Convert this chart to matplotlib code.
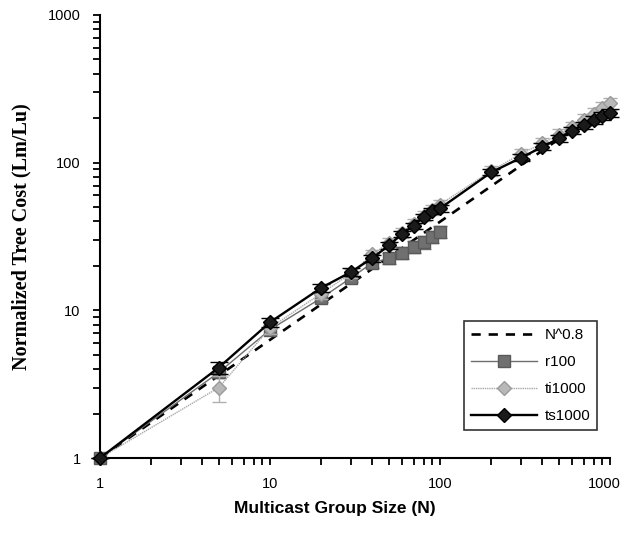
import matplotlib
matplotlib.use("Agg")
import matplotlib.pyplot as plt
import matplotlib.transforms as mtransforms
from matplotlib.lines import Line2D
from matplotlib.ticker import LogLocator, FixedLocator, FixedFormatter, NullFormatter

# ---- data ----
N_all = [1, 5, 10, 20, 30, 40, 50, 60, 70, 80, 90, 100, 200, 300, 400, 500, 600, 700, 800, 900, 1000]
ref_N = [1, 5, 10, 20, 30, 40, 50, 60, 70, 80, 90, 100, 200, 300, 400, 500, 600, 700, 800, 900, 1000]
ref_vals = [1.0, 3.62, 6.31, 10.99, 15.19, 19.13, 22.87, 26.46, 29.93, 33.30, 36.59, 39.81, 69.31,
            95.87, 120.7, 144.3, 166.9, 188.7, 209.9, 230.5, 251.2]

r100_N = [1, 5, 10, 20, 30, 40, 50, 60, 70, 80, 90, 100]
r100_vals = [1.0, 3.8, 7.4, 12.1, 16.6, 21.0, 22.5, 24.5, 27.0, 29.0, 31.5, 34.0]
r100_err = [0.0, 0.3, 0.5, 0.8, 1.0, 1.6, 2.0, 2.3, 2.6, 2.8, 3.0, 3.2]

ti_N = N_all
ti_vals = [1.0, 3.0, 7.6, 13.0, 17.8, 24.0, 28.5, 33.5, 38.5, 43.5, 48.0, 52.0, 88.0, 115.0,
           135.0, 155.0, 175.0, 195.0, 215.0, 235.0, 252.0]
ti_err = [0.0, 0.6, 0.7, 1.0, 1.3, 1.8, 2.2, 2.6, 3.0, 3.4, 3.8, 4.2, 6.5, 9.0, 11.0, 13.0,
          15.0, 17.0, 19.0, 21.0, 23.0]

ts_N = N_all
ts_vals = [1.0, 4.1, 8.3, 14.2, 18.2, 22.6, 27.5, 33.0, 37.5, 43.0, 47.0, 49.0, 86.0, 108.0,
           128.0, 146.0, 165.0, 180.0, 195.0, 208.0, 218.0]
ts_err = [0.0, 0.4, 0.6, 0.9, 1.0, 1.2, 1.4, 1.6, 1.8, 2.0, 2.2, 2.4, 4.0, 6.0, 7.0, 8.0,
          9.0, 10.0, 11.0, 12.0, 13.0]

xticks = [1, 10, 100, 1000]
xticklabels = ["1", "10", "100", "1000"]
yticks = [1, 10, 100, 1000]
yticklabels = ["1", "10", "100", "1000"]

# ---- styles ----
ref_style = dict(linestyle=(0, (3.5, 3)), color="black", linewidth=1.9)
r100_style = dict(color="#6e6e6e", linewidth=1.0, marker="s", markersize=8.5,
                  markerfacecolor="#707070", markeredgecolor="#5a5a5a")
ti_style = dict(color="#a8a8a8", linewidth=1.0, linestyle=(0, (1, 0.6)), marker="D",
                markersize=7.5, markerfacecolor="#b8b8b8", markeredgecolor="#9a9a9a")
ts_style = dict(color="black", linewidth=1.7, marker="D", markersize=7.5,
                markerfacecolor="#1a1a1a", markeredgecolor="black")

# ---- figure ----
fig = plt.figure(figsize=(6.25, 5.33), dpi=100)
ax = fig.add_axes([100/625, 1 - 458/533, 510/625, 443/533])
ax.set_xscale("log")
ax.set_yscale("log")
ax.set_xlim(1, 1000)
ax.set_ylim(1, 1000)

ax.plot(ref_N, ref_vals, zorder=2, clip_on=False, **ref_style)

ax.errorbar(r100_N, r100_vals, yerr=r100_err, ecolor="#6e6e6e", elinewidth=1.0, capsize=5,
            zorder=3, clip_on=False, **r100_style)
ax.errorbar(ti_N, ti_vals, yerr=ti_err, ecolor="#b0b0b0", elinewidth=1.0, capsize=5,
            zorder=4, clip_on=False, **ti_style)
ax.errorbar(ts_N, ts_vals, yerr=ts_err, ecolor="black", elinewidth=1.2, capsize=6.5,
            zorder=5, clip_on=False, **ts_style)

for s in ["top", "right"]:
    ax.spines[s].set_visible(False)
for s in ["left", "bottom"]:
    ax.spines[s].set_linewidth(1.5)
    ax.spines[s].set_color("black")

ax.xaxis.set_major_locator(FixedLocator(xticks))
ax.xaxis.set_major_formatter(FixedFormatter(xticklabels))
ax.yaxis.set_major_locator(FixedLocator(yticks))
ax.yaxis.set_major_formatter(FixedFormatter(yticklabels))
ax.xaxis.set_minor_locator(LogLocator(base=10, subs=range(2, 10)))
ax.yaxis.set_minor_locator(LogLocator(base=10, subs=range(2, 10)))
ax.xaxis.set_minor_formatter(NullFormatter())
ax.yaxis.set_minor_formatter(NullFormatter())
ax.tick_params(which="both", direction="out", width=1.3, color="black")
ax.tick_params(which="major", length=5, labelsize=10.5, pad=9)
ax.tick_params(which="minor", length=5)
for lab in ax.get_xticklabels() + ax.get_yticklabels():
    lab.set_fontfamily("Liberation Sans")
# last x label sits slightly left in the original
xl = ax.get_xticklabels()
xl[-1].set_transform(xl[-1].get_transform() +
                     mtransforms.ScaledTranslation(-6/100, 0, fig.dpi_scale_trans))

ax.set_xlabel("Multicast Group Size (N)", fontfamily="Liberation Sans", fontweight="bold",
              fontsize=12.5)
ax.xaxis.set_label_coords((335 - 100) / 510, (458 - 501) / 443)
ax.set_ylabel("Normalized Tree Cost (Lm/Lu)", fontfamily="Liberation Serif", fontweight="bold",
              fontsize=14.5, labelpad=12)

handles = [Line2D([], [], **ref_style), Line2D([], [], **r100_style),
           Line2D([], [], **ti_style), Line2D([], [], **ts_style)]
labels = ["N^0.8", "r100", "ti1000", "ts1000"]
leg = ax.legend(handles, labels, loc="lower right", bbox_to_anchor=(0.975, 0.063), frameon=True,
                fancybox=False, edgecolor="black", fontsize=11, handlelength=4.3, borderpad=0.45,
                labelspacing=0.85, handletextpad=0.5, borderaxespad=0)
leg.get_frame().set_linewidth(1.2)
for t in leg.get_texts():
    t.set_fontfamily("Liberation Sans")

fig.savefig("out.png", dpi=100)
